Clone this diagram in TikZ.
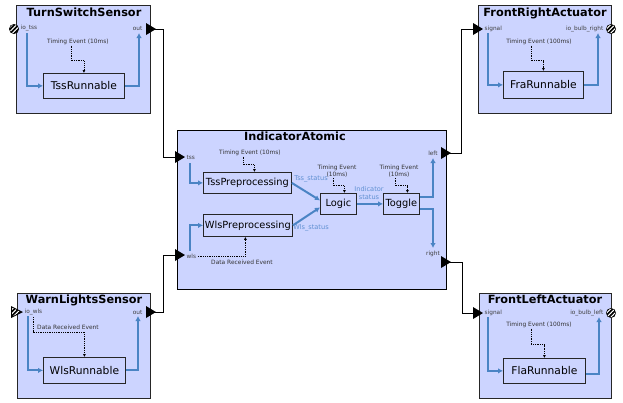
\documentclass[tikz,border=0pt]{standalone}
\usepackage{fontspec}
\setmainfont{DejaVu Sans}
\usepackage{tikz}
\usetikzlibrary{arrows.meta,positioning,patterns.meta}
\definecolor{swcfill}{RGB}{204,212,255}
\definecolor{flowblue}{RGB}{74,132,196}
\definecolor{labelblue}{RGB}{96,144,210}
\tikzset{
  swc/.style={
    draw=black!85,
    fill=swcfill,
    line width=0.9pt,
    anchor=north west,
    inner sep=0pt
  },
  runnable/.style={
    draw=black!85,
    fill=swcfill,
    line width=0.8pt,
    anchor=north west,
    inner sep=0pt,
    font=\fontsize{10.7}{12}\selectfont
  },
  small runnable/.style={
    runnable,
    font=\fontsize{9.8}{11}\selectfont
  },
  swc title/.style={
    font=\bfseries\fontsize{11.3}{12.5}\selectfont,
    anchor=north,
    inner sep=0pt
  },
  port label/.style={font=\fontsize{5.8}{6.6}\selectfont, text=black!75, inner sep=0.5pt},
  event label/.style={font=\fontsize{5.9}{6.9}\selectfont, text=black!80, inner sep=0.5pt, align=center},
  data label/.style={font=\fontsize{6.6}{7.6}\selectfont, text=labelblue, inner sep=0.5pt, align=center},
  flow/.style={draw=flowblue, line width=2pt, -{Latex[length=5pt,width=5.5pt]}},
  event/.style={draw=black, densely dotted, line width=0.8pt, -{Latex[length=3pt,width=3pt]}},
  conn/.style={draw=black, line width=0.8pt},
  port/.pic={
    \fill[black] (-5,-6) -- (5,0) -- (-5,6) -- cycle;
    \coordinate (-tip) at (5,0);
    \coordinate (-base) at (-5,0);
  },
  io circle/.pic={
    \fill[black] (0,0) circle (5pt);
    \fill[pattern={Lines[angle=45,distance=3pt,line width=1.1pt]}, pattern color=white] (0,0) circle (4.3pt);
  },
  io triangle/.pic={
    \fill[black] (-6,-6) -- (6,0) -- (-6,6) -- cycle;
    \fill[pattern={Lines[angle=45,distance=3pt,line width=1.1pt]}, pattern color=white] (-5,-4.5) -- (3.5,0) -- (-5,4.5) -- cycle;
  }
}

\begin{document}
\begin{tikzpicture}[x=1pt, y=-1pt]
 \useasboundingbox (0,0) rectangle (623,402);
 % software components
 \node[swc, minimum width=134pt, minimum height=108pt] (tss) at (16,5) {};
 \node[swc title] (tss-title) at (84,8) {TurnSwitchSensor};
 \node[swc, minimum width=133pt, minimum height=105pt] (wls) at (17,293) {};
 \node[swc title] (wls-title) at (84,295) {WarnLightsSensor};
 \node[swc, minimum width=133pt, minimum height=108pt] (fra) at (478,5) {};
 \node[swc title] (fra-title) at (545,8) {FrontRightActuator};
 \node[swc, minimum width=132pt, minimum height=105pt] (fla) at (479,293) {};
 \node[swc title] (fla-title) at (545,295) {FrontLeftActuator};
 \node[swc, line width=1.1pt, draw=black, minimum width=269pt, minimum height=159pt] (ia) at (177,130) {};
 \node[swc title] (ia-title) at (295,132) {IndicatorAtomic};

 % runnables
 \node[runnable, minimum width=81pt, minimum height=25pt] (tssrun) at (43,73) {TssRunnable};
 \node[runnable, minimum width=82pt, minimum height=26pt] (wlsrun) at (43,357) {WlsRunnable};
 \node[runnable, minimum width=80pt, minimum height=27pt] (frarun) at (503,71) {FraRunnable};
 \node[runnable, minimum width=82pt, minimum height=25pt] (flarun) at (503,358) {FlaRunnable};
 \node[small runnable, minimum width=88pt, minimum height=21pt] (tsspre) at (203,172) {TssPreprocessing};
 \node[small runnable, minimum width=89pt, minimum height=22pt] (wlspre) at (203,214) {WlsPreprocessing};
 \node[small runnable, minimum width=36pt, minimum height=21pt] (logic) at (320,193) {Logic};
 \node[small runnable, minimum width=36pt, minimum height=21pt] (toggle) at (383,193) {Toggle};

 % TurnSwitchSensor
 \node[port label, anchor=west] (tss-io-lbl) at (20,28) {io\_tss};
 \node[port label, anchor=east] (tss-out-lbl) at (143,29) {out};
 \coordinate (tss-io) at (27,33);
 \coordinate (tss-outp) at (139,33);
 \draw[flow] (tss-io) |- (tssrun.west);
 \draw[flow] (tssrun.east) -| (tss-outp);
 \node[event label] (tssrun-te) at (78,42) {Timing Event (10ms)};
 \draw[event] ([xshift=-7pt]tssrun-te.south) -- ++(0,15) -| (tssrun.north);

 % WarnLightsSensor
 \node[port label, anchor=west] (wls-io-lbl) at (24,312) {io\_wls};
 \node[port label, anchor=east] (wls-out-lbl) at (143,312) {out};
 \coordinate (wls-io) at (28,316);
 \coordinate (wls-io-ev) at (33,317);
 \coordinate (wls-outp) at (138,316);
 \draw[flow] (wls-io) |- (wlsrun.west);
 \draw[flow] (wlsrun.east) -| (wls-outp);
 \node[event label] (wlsrun-ev) at (68,327) {Data Received Event};
 \draw[event] (wls-io-ev) -- ++(0,15) -| (wlsrun.north);

 % FrontRightActuator
 \node[port label, anchor=west] (fra-sig-lbl) at (484,29) {signal};
 \node[port label, anchor=east] (fra-io-lbl) at (604,29) {io\_bulb\_right};
 \coordinate (fra-sig-in) at (488,33);
 \coordinate (fra-io) at (598,33);
 \draw[flow] (fra-sig-in) |- (frarun.west);
 \draw[flow] (frarun.east) -| (fra-io);
 \node[event label] (frarun-te) at (539,42) {Timing Event (100ms)};
 \draw[event] ([xshift=-8pt]frarun-te.south) -- ++(0,15) -| (frarun.north);

 % FrontLeftActuator
 \node[port label, anchor=west] (fla-sig-lbl) at (484,313) {signal};
 \node[port label, anchor=east] (fla-io-lbl) at (604,313) {io\_bulb\_left};
 \coordinate (fla-sig-in) at (488,317);
 \coordinate (fla-io) at (599,317);
 \draw[flow] (fla-sig-in) |- (flarun.west);
 \draw[flow] ([yshift=-3pt]flarun.east) -| (fla-io);
 \node[event label] (flarun-te) at (539,325) {Timing Event (100ms)};
 \draw[event] ([xshift=-8pt]flarun-te.south) -- ++(0,16) -| (flarun.north);

 % IndicatorAtomic
 \node[port label, anchor=west] (ia-tss-lbl) at (186,158) {tss};
 \node[port label, anchor=west] (ia-wls-lbl) at (186,256) {wls};
 \node[port label] (ia-left-lbl) at (433,153) {left};
 \node[port label] (ia-right-lbl) at (433,254) {right};
 \coordinate (ia-tss-in) at (190,163);
 \coordinate (ia-wls-in) at (190,251);
 \coordinate (ia-left-out) at (433,158);
 \coordinate (ia-right-out) at (433,248);
 \draw[flow] (ia-tss-in) |- (tsspre.west);
 \draw[flow] (ia-wls-in) |- (wlspre.west);
 \draw[flow] (tsspre.east) -- ([yshift=3.5pt]logic.west);
 \draw[flow] (wlspre.east) -- ([yshift=-3.5pt]logic.west);
 \draw[flow] (logic) -- (toggle);
 \draw[flow] ([yshift=6.5pt]toggle.east) -| (ia-left-out);
 \draw[flow] ([yshift=-5.5pt]toggle.east) -| (ia-right-out);
 \node[data label] (tss-status) at (311,179) {Tss\_status};
 \node[data label] (wls-status) at (311,228) {Wls\_status};
 \node[data label] (ind-status) at (369,193) {Indicator\\status};
 \node[event label] (tsspre-te) at (250,153) {Timing Event (10ms)};
 \draw[event] ([xshift=-7pt]tsspre-te.south) -- ++(0,8) -| ([xshift=7pt]tsspre.north);
 \node[event label] (logic-te) at (337,171) {Timing Event\\(10ms)};
 \draw[event] ([xshift=-4pt]logic-te.south) -- ++(0,8) -| ([xshift=6pt]logic.north);
 \node[event label] (toggle-te) at (399,171) {Timing Event\\(10ms)};
 \draw[event] ([xshift=-4pt]toggle-te.south) -- ++(0,8) -| ([xshift=6pt]toggle.north);
 \node[event label] (wlspre-ev) at (242,262) {Data Received Event};
 \draw[event] ([xshift=1pt]ia-wls-lbl.east) -| ([xshift=-2.5pt]wlspre.south);

 % connectors between components
 \draw[conn] (151,29) -- ++(12,0) |- (180,157);
 \draw[conn] (151,312) -- ++(12,0) |- (180,255);
 \draw[conn] (446,153) -- ++(15,0) |- (478,29);
 \draw[conn] (446,262) -- ++(16,0) |- (478,313);

 % ports
 \pic (tss-out) at (151,29) {port};
 \pic (wls-out) at (151,312) {port};
 \pic (ia-tss) at (180,157) {port};
 \pic (ia-wls) at (180,255) {port};
 \pic (ia-left) at (446,153) {port};
 \pic (ia-right) at (446,262) {port};
 \pic (fra-sig) at (478,29) {port};
 \pic (fla-sig) at (478,313) {port};
 \pic (tss-ioport) at (14,29) {io circle};
 \pic (wls-ioport) at (17,312) {io triangle};
 \pic (fra-ioport) at (611,29) {io circle};
 \pic (fla-ioport) at (611,313) {io circle};
\end{tikzpicture}
\end{document}
